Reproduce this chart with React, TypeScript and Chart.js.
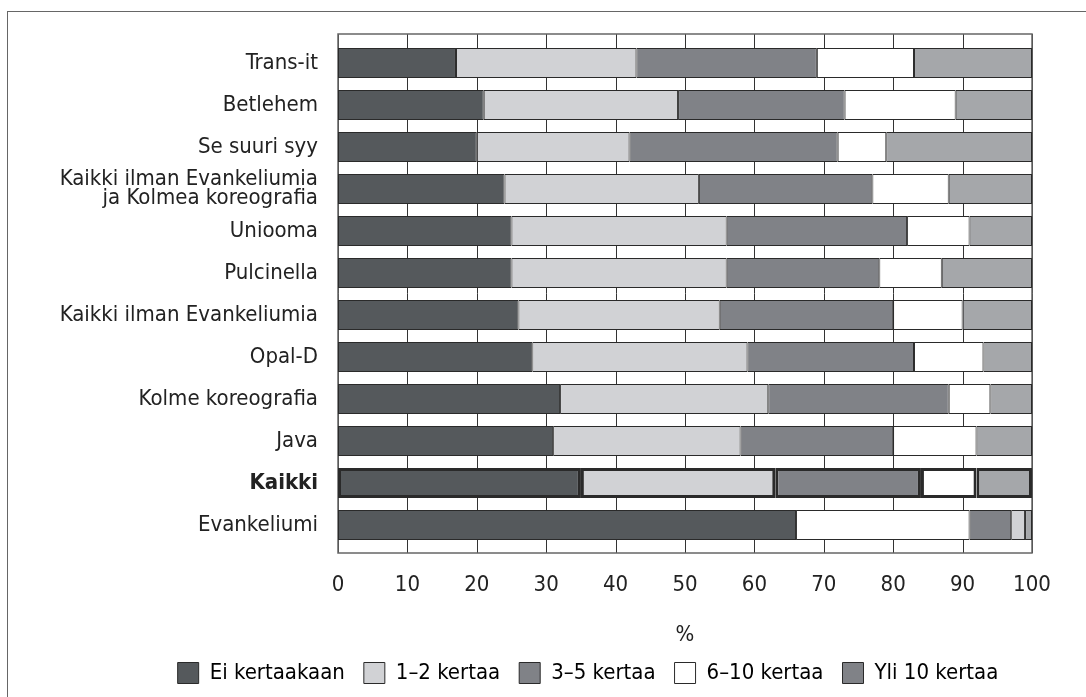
import React, { useEffect, useRef } from "react";
import { Chart, registerables } from "chart.js";

Chart.register(...registerables);

const categories: (string | string[])[] = [
  "Trans-it",
  "Betlehem",
  "Se suuri syy",
  ["Kaikki ilman Evankeliumia", "ja Kolmea koreografia"],
  "Uniooma",
  "Pulcinella",
  "Kaikki ilman Evankeliumia",
  "Opal-D",
  "Kolme koreografia",
  "Java",
  "Kaikki",
  "Evankeliumi",
];

const seriesNames = ["Ei kertaakaan", "1–2 kertaa", "3–5 kertaa", "6–10 kertaa", "Yli 10 kertaa"];

const eiKertaakaan = [17, 21, 20, 24, 25, 25, 26, 28, 32, 31, 35, 66];
const kertaa1to2 = [26, 28, 22, 28, 31, 31, 29, 31, 30, 27, 28, 25];
const kertaa3to5 = [26, 24, 30, 25, 26, 22, 25, 24, 26, 22, 21, 6];
const kertaa6to10 = [14, 16, 7, 11, 9, 9, 10, 10, 6, 12, 8, 2];
const yli10 = [17, 11, 21, 12, 9, 13, 10, 7, 6, 8, 8, 1];

const xTicks = [0, 10, 20, 30, 40, 50, 60, 70, 80, 90, 100];
const xTitle = "%";

const highlightLabel = "Kaikki";
const swappedLabel = "Evankeliumi";

const FONT = "'Liberation Sans Narrow', 'DejaVu Sans Condensed', 'Roboto', sans-serif";
const FS = 22;
const TEXT = "#222";

const barColors = ["#55595c", "#d1d2d5", "#808287", "#ffffff", "#a5a7aa"];
const legendColors = ["#55595c", "#d1d2d5", "#808287", "#ffffff", "#808287"];
// colours used on the Evankeliumi row in the original figure
const swappedColors = ["#55595c", "#ffffff", "#808287", "#d1d2d5", "#a5a7aa"];

const framePlugin = {
  id: "frameGrid",
  afterLayout(chart: any) {
    const lg = chart.legend;
    if (lg) {
      lg.left = 144;
      lg.right = 1032;
      lg.width = 1032 - 144;
    }
  },
  beforeDatasetsDraw(chart: any) {
    const { ctx, chartArea: a, scales } = chart;
    const x = scales.x;
    const top = a.top - 8;
    const bottom = a.bottom + 7;
    ctx.save();
    ctx.strokeStyle = "#333";
    ctx.lineWidth = 1;
    for (const v of xTicks) {
      const px = Math.round(x.getPixelForValue(v)) + 0.5;
      ctx.beginPath();
      ctx.moveTo(px, top);
      ctx.lineTo(px, bottom);
      ctx.stroke();
    }
    ctx.strokeStyle = "#666";
    ctx.lineWidth = 1.5;
    const l = x.getPixelForValue(0);
    const r = x.getPixelForValue(100);
    ctx.strokeRect(l, top, r - l, bottom - top);
    ctx.restore();
  },
};

export default function App() {
  const canvasRef = useRef<HTMLCanvasElement | null>(null);

  useEffect(() => {
    const canvas = canvasRef.current;
    if (!canvas) return;
    const values = [eiKertaakaan, kertaa1to2, kertaa3to5, kertaa6to10, yli10];
    const highlightIndex = categories.indexOf(highlightLabel);
    const swappedIndex = categories.indexOf(swappedLabel);

    const datasets = values.map((data, i) => ({
      label: seriesNames[i],
      data,
      backgroundColor: (c: any) => (c.dataIndex === swappedIndex ? swappedColors[i] : barColors[i]),
      borderColor: "#2a2a2a",
      borderWidth: (c: any) => (c.dataIndex === highlightIndex ? 3 : 1),
      borderSkipped: false,
      barPercentage: 30 / 42,
      categoryPercentage: 1,
    }));

    const chart = new Chart(canvas, {
      type: "bar",
      data: { labels: categories, datasets },
      plugins: [framePlugin],
      options: {
        indexAxis: "y",
        responsive: false,
        animation: false,
        devicePixelRatio: 1,
        layout: { padding: { top: 42, left: 8, right: 54, bottom: 3 } },
        plugins: {
          tooltip: { enabled: false },
          legend: {
            position: "bottom",
            labels: {
              color: TEXT,
              font: { family: FONT, size: FS },
              boxWidth: 21,
              boxHeight: 21,
              padding: 19,
              generateLabels: () =>
                seriesNames.map((name, i) => ({
                  text: name,
                  fillStyle: legendColors[i],
                  strokeStyle: "#2a2a2a",
                  lineWidth: 1,
                  hidden: false,
                  datasetIndex: i,
                })),
            },
          },
        },
        scales: {
          x: {
            stacked: true,
            min: 0,
            max: 100,
            afterBuildTicks: (s: any) => {
              s.ticks = xTicks.map((v) => ({ value: v }));
            },
            afterFit: (s: any) => {
              s.height = 97;
            },
            grid: { display: false, drawTicks: false },
            border: { display: false },
            ticks: {
              color: TEXT,
              font: { family: FONT, size: FS },
              padding: 26,
              maxRotation: 0,
            },
            title: {
              display: true,
              text: xTitle,
              color: TEXT,
              font: { family: FONT, size: FS },
              padding: { top: 0, bottom: -5 },
            },
          },
          y: {
            stacked: true,
            afterFit: (s: any) => {
              s.width = 330;
            },
            grid: { display: false, drawTicks: false },
            border: { display: false },
            ticks: {
              color: TEXT,
              padding: 20,
              autoSkip: false,
              font: (c: any) => ({
                family: FONT,
                size: FS,
                lineHeight: 0.86,
                weight: c.index === highlightIndex ? "bold" : "normal",
              }),
            },
          },
        },
      },
    });
    return () => chart.destroy();
  }, []);

  return (
    <div
      style={{
        position: "fixed",
        left: 0,
        top: 0,
        width: 1086,
        height: 697,
        background: "#fff",
        overflow: "hidden",
      }}
    >
      <div
        style={{
          position: "absolute",
          left: 7,
          top: 11,
          width: 1100,
          height: 700,
          borderTop: "1.5px solid #666",
          borderLeft: "1.5px solid #666",
        }}
      />
      <canvas
        ref={canvasRef}
        width={1086}
        height={697}
        style={{ position: "absolute", left: 0, top: 0, width: 1086, height: 697 }}
      />
    </div>
  );
}
